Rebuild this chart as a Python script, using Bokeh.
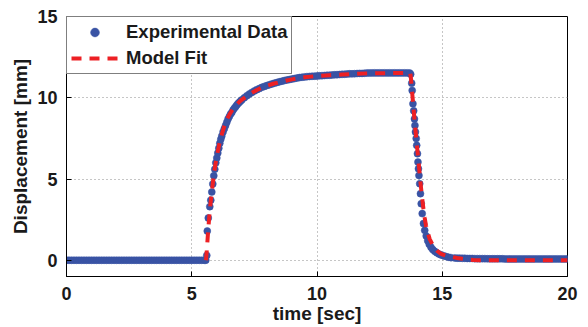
from bokeh.plotting import figure
from bokeh.models import Range1d, FixedTicker, Legend, LegendItem
from bokeh.embed import file_html
from bokeh.resources import INLINE

# ---- data ----
x_ticks = [0, 5, 10, 15, 20]
y_ticks = [0, 5, 10, 15]

exp_time_flat = [0.0, 0.1, 0.2, 0.3, 0.4, 0.5, 0.6, 0.7, 0.8, 0.9,
                 1.0, 1.1, 1.2, 1.3, 1.4, 1.5, 1.6, 1.7, 1.8, 1.9,
                 2.0, 2.1, 2.2, 2.3, 2.4, 2.5, 2.6, 2.7, 2.8, 2.9,
                 3.0, 3.1, 3.2, 3.3, 3.4, 3.5, 3.6, 3.7, 3.8, 3.9,
                 4.0, 4.1, 4.2, 4.3, 4.4, 4.5, 4.6, 4.7, 4.8, 4.9,
                 5.0, 5.1, 5.2, 5.3, 5.4, 5.5, 5.56]
exp_disp_flat = [0.0, 0.0, 0.0, 0.0, 0.0, 0.0, 0.0, 0.0, 0.0, 0.0,
                 0.0, 0.0, 0.0, 0.0, 0.0, 0.0, 0.0, 0.0, 0.0, 0.0,
                 0.0, 0.0, 0.0, 0.0, 0.0, 0.0, 0.0, 0.0, 0.0, 0.0,
                 0.0, 0.0, 0.0, 0.0, 0.0, 0.0, 0.0, 0.0, 0.0, 0.0,
                 0.0, 0.0, 0.0, 0.0, 0.0, 0.0, 0.0, 0.0, 0.0, 0.0,
                 0.0, 0.0, 0.0, 0.0, 0.0, 0.0, 0.0]

exp_time_rise = [5.60, 5.62, 5.66, 5.72, 5.76, 5.80, 5.84, 5.88, 5.92, 5.96,
                 6.00, 6.04, 6.08, 6.12, 6.16, 6.20, 6.25, 6.30, 6.35, 6.40,
                 6.45, 6.50, 6.55, 6.60, 6.65, 6.70, 6.75, 6.80, 6.85, 6.90,
                 6.95, 7.00, 7.1, 7.2, 7.3, 7.4, 7.5, 7.6, 7.7, 7.8,
                 7.9, 8.0, 8.1, 8.2, 8.3, 8.4, 8.5, 8.6, 8.7, 8.8,
                 8.9, 9.0, 9.1, 9.2, 9.3, 9.4, 9.5, 9.6, 9.7, 9.8,
                 9.9, 10.0]
exp_disp_rise = [0.3, 1.8, 2.6, 3.3, 3.7, 4.2, 4.7, 5.2, 5.6, 6.0,
                 6.3, 6.6, 6.9, 7.2, 7.45, 7.65, 7.9, 8.1, 8.3, 8.5,
                 8.7, 8.85, 9.0, 9.1, 9.25, 9.35, 9.45, 9.55, 9.65, 9.72,
                 9.8, 9.87, 10.0, 10.12, 10.23, 10.33, 10.42, 10.5, 10.57, 10.64,
                 10.7, 10.75, 10.8, 10.85, 10.9, 10.94, 10.98, 11.02, 11.06, 11.09,
                 11.12, 11.15, 11.18, 11.21, 11.24, 11.26, 11.28, 11.3, 11.31, 11.32,
                 11.33, 11.34]

exp_time_hold = [10.1, 10.2, 10.3, 10.4, 10.5, 10.6, 10.7, 10.8, 10.9, 11.0,
                 11.1, 11.2, 11.3, 11.4, 11.5, 11.6, 11.7, 11.8, 11.9, 12.0,
                 12.1, 12.2, 12.3, 12.4, 12.5, 12.6, 12.7, 12.8, 12.9, 13.0,
                 13.1, 13.2, 13.3, 13.4, 13.5, 13.6, 13.7]
exp_disp_hold = [11.35, 11.36, 11.37, 11.38, 11.39, 11.40, 11.41, 11.42, 11.43, 11.44,
                 11.45, 11.46, 11.47, 11.47, 11.48, 11.49, 11.50, 11.50, 11.51, 11.52,
                 11.52, 11.53, 11.53, 11.53, 11.53, 11.53, 11.53, 11.53, 11.53, 11.53,
                 11.53, 11.53, 11.53, 11.53, 11.53, 11.53, 11.52]

exp_time_fall = [13.74, 13.78, 13.80, 13.83, 13.86, 13.89, 13.91, 13.93, 13.96, 13.98,
                 14.01, 14.03, 14.05, 14.07, 14.10, 14.13, 14.16, 14.20, 14.25, 14.30,
                 14.36, 14.42, 14.48, 14.55, 14.62, 14.70, 14.78, 14.86, 14.95, 15.05,
                 15.15, 15.25, 15.35, 15.5]
exp_disp_fall = [11.45, 10.9, 10.45, 9.63, 9.2, 8.7, 8.3, 7.9, 7.5, 7.07,
                 6.56, 6.04, 5.63, 5.22, 4.71, 4.1, 3.48, 2.87, 2.26, 1.84,
                 1.5, 1.2, 0.98, 0.8, 0.66, 0.55, 0.46, 0.39, 0.33, 0.28,
                 0.23, 0.19, 0.16, 0.14]

exp_time_tail = [15.6, 15.7, 15.8, 15.9, 16.0, 16.1, 16.2, 16.3, 16.4, 16.5,
                 16.6, 16.7, 16.8, 16.9, 17.0, 17.1, 17.2, 17.3, 17.4, 17.5,
                 17.6, 17.7, 17.8, 17.9, 18.0, 18.1, 18.2, 18.3, 18.4, 18.5,
                 18.6, 18.7, 18.8, 18.9, 19.0, 19.1, 19.2, 19.3, 19.4, 19.5,
                 19.6, 19.7, 19.8, 19.9, 20.0]
exp_disp_tail = [0.13, 0.13, 0.12, 0.12, 0.11, 0.11, 0.11, 0.10, 0.10, 0.10,
                 0.10, 0.10, 0.09, 0.09, 0.09, 0.09, 0.09, 0.09, 0.09, 0.08,
                 0.08, 0.08, 0.08, 0.08, 0.08, 0.08, 0.08, 0.08, 0.08, 0.08,
                 0.08, 0.08, 0.08, 0.08, 0.08, 0.08, 0.08, 0.08, 0.08, 0.08,
                 0.08, 0.08, 0.08, 0.08, 0.08]

fit_time = [5.57, 5.60, 5.65, 5.70, 5.75, 5.80, 5.85, 5.90, 5.95, 6.00,
            6.10, 6.20, 6.30, 6.40, 6.50, 6.60, 6.70, 6.80, 6.90, 7.00,
            7.20, 7.40, 7.60, 7.80, 8.00, 8.25, 8.50, 8.75, 9.00, 9.50,
            10.0, 10.5, 11.0, 11.5, 12.0, 12.5, 13.0, 13.5, 13.72,
            13.75, 13.80, 13.85, 13.90, 13.95, 14.00, 14.05, 14.10, 14.15, 14.20,
            14.25, 14.30, 14.35, 14.40, 14.50, 14.60, 14.70, 14.80, 14.90, 15.00,
            15.20, 15.40, 15.60, 15.80, 16.00, 16.25, 16.50, 20.0]
fit_disp = [0.0, 0.6, 1.7, 2.7, 3.5, 4.2, 4.85, 5.45, 5.95, 6.4,
            7.15, 7.75, 8.25, 8.65, 8.95, 9.2, 9.42, 9.6, 9.75, 9.88,
            10.1, 10.3, 10.48, 10.62, 10.74, 10.86, 10.96, 11.05, 11.13, 11.26,
            11.34, 11.39, 11.43, 11.47, 11.5, 11.51, 11.52, 11.53, 11.53,
            11.2, 10.3, 9.4, 8.5, 7.7, 6.9, 6.1, 5.3, 4.5, 3.8,
            3.15, 2.6, 2.15, 1.8, 1.3, 1.0, 0.75, 0.57, 0.45, 0.36,
            0.26, 0.2, 0.14, 0.09, 0.05, 0.02, 0.0, 0.0]

exp_time = exp_time_flat + exp_time_rise + exp_time_hold + exp_time_fall + exp_time_tail
exp_disp = exp_disp_flat + exp_disp_rise + exp_disp_hold + exp_disp_fall + exp_disp_tail

BLUE = "#3953A4"
RED = "#ED2024"
FONT = "Liberation Sans"

p = figure(width=588, height=327,
           x_range=Range1d(0, 20), y_range=Range1d(-1, 15),
           output_backend="svg", toolbar_location=None,
           min_border_left=66, min_border_right=21,
           min_border_top=16, min_border_bottom=51)
p.background_fill_color = "white"
p.border_fill_color = "white"
p.outline_line_color = "black"
p.outline_line_width = 1

def style_axis(ax, ticks, standoff):
    ax.ticker = FixedTicker(ticks=ticks)
    ax.major_tick_in = 5
    ax.major_tick_out = 0
    ax.minor_tick_in = 0
    ax.minor_tick_out = 0
    ax.axis_line_color = "black"
    ax.major_tick_line_color = "black"
    ax.major_label_text_font = FONT
    ax.major_label_text_font_style = "bold"
    ax.major_label_text_color = "#1a1a1a"
    ax.major_label_text_font_size = "18px"
    ax.major_label_standoff = standoff
    ax.axis_label_text_font = FONT
    ax.axis_label_text_font_style = "bold"
    ax.axis_label_text_color = "#1a1a1a"
    ax.axis_label_text_font_size = "19px"

style_axis(p.xaxis[0], x_ticks, 10)
style_axis(p.yaxis[0], y_ticks, 9)
p.xaxis.axis_label = "time [sec]"
p.yaxis.axis_label = "Displacement [mm]"
p.xaxis.axis_label_standoff = 0
p.yaxis.axis_label_standoff = 3

p.xgrid.ticker = FixedTicker(ticks=x_ticks)
p.ygrid.ticker = FixedTicker(ticks=y_ticks)
for g in (p.xgrid[0], p.ygrid[0]):
    g.grid_line_color = "#8c8c8c"
    g.grid_line_dash = "1 3"
    g.grid_line_width = 1

r_exp = p.scatter(exp_time, exp_disp, size=7, marker="circle",
                  fill_color=BLUE, line_color=BLUE, line_width=0.5)
r_fit = p.line(fit_time, fit_disp, line_color=RED, line_width=4, line_dash="10 8")

legend = Legend(items=[LegendItem(label="Experimental Data", renderers=[r_exp]),
                       LegendItem(label="Model Fit", renderers=[r_fit])],
                location="top_left")
legend.margin = 0
legend.padding = 4
legend.spacing = 4
legend.glyph_width = 47
legend.glyph_height = 22
legend.label_height = 22
legend.label_standoff = 8
legend.label_text_font = FONT
legend.label_text_font_style = "bold"
legend.label_text_font_size = "18.5px"
legend.label_text_color = "#1a1a1a"
legend.border_line_color = "black"
legend.border_line_width = 1
legend.background_fill_color = "white"
legend.background_fill_alpha = 1
p.add_layout(legend)

open("out.html", "w").write(file_html(p, INLINE))
